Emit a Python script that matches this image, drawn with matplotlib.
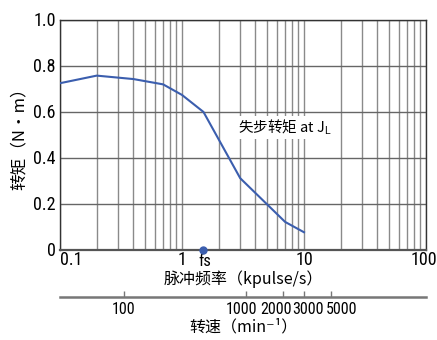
import matplotlib
matplotlib.use("Agg")
import matplotlib.pyplot as plt
from matplotlib.transforms import ScaledTranslation

# ---- data ----
freq_kpps = [0.1, 0.2, 0.4, 0.7, 1.0, 1.5, 3.0, 7.0, 10.0]
torque_nm = [0.723, 0.756, 0.741, 0.718, 0.672, 0.598, 0.31, 0.12, 0.075]
fs_freq = 1.5
y_ticks = [0, 0.2, 0.4, 0.6, 0.8, 1.0]
y_ticklabels = ["0", "0.2", "0.4", "0.6", "0.8", "1.0"]
x_ticks = [0.1, 1, 10, 100]
x_ticklabels = ["0.1", "1", "10", "100"]
rpm_ticks = [100, 1000, 2000, 3000, 5000]
rpm_ticklabels = ["100", "1000", "2000", "3000", "5000"]
rpm_per_kpps = 300.0

NUM = ["Roboto Condensed", "Liberation Sans Narrow", "Roboto", "DejaVu Sans"]
CJK = ["Noto Sans CJK SC", "DejaVu Sans"]
plt.rcParams["font.family"] = NUM
plt.rcParams["mathtext.fontset"] = "custom"
plt.rcParams["mathtext.rm"] = "Liberation Sans"

fig = plt.figure(figsize=(4.37, 3.40), dpi=100)
L, R = 60 / 437, 426 / 437
B, T = 1 - 249.5 / 340, 1 - 19.5 / 340
ax = fig.add_axes([L, B, R - L, T - B])
ax.set_xscale("log")
ax.set_xlim(0.1, 100)
ax.set_ylim(0, 1.0)

grid_c = "#8a8a8a"
ax.grid(True, which="both", axis="x", color=grid_c, lw=1.0)
ax.grid(True, which="major", axis="y", color="#666666", lw=1.0)
ax.set_axisbelow(True)
for s in ["left", "top", "right"]:
    ax.spines[s].set_color("#333333")
    ax.spines[s].set_linewidth(1.0)
ax.spines["bottom"].set_color("#555555")
ax.spines["bottom"].set_linewidth(1.6)

ax.set_yticks(y_ticks)
ax.set_yticklabels(y_ticklabels, fontsize=13)
ax.set_xticks(x_ticks)
ax.set_xticklabels(x_ticklabels, fontsize=13)
ax.xaxis.set_minor_formatter(matplotlib.ticker.NullFormatter())
ax.tick_params(axis="both", which="both", length=0)
ax.tick_params(axis="y", pad=3)
ax.tick_params(axis="x", pad=1)
ax.get_xticklabels()[0].set_ha("left")
ax.get_xticklabels()[-1].set_ha("right")
ax.get_xticklabels()[-1].set_transform(
    ax.get_xticklabels()[-1].get_transform() + ScaledTranslation(11 / 100, 0, fig.dpi_scale_trans))

ax.plot(freq_kpps, torque_nm, color="#3b5eae", lw=1.5, zorder=3)
ax.plot([fs_freq], [0], "o", color="#3b5eae", ms=5, clip_on=False, zorder=4)
ax.annotate("fs", xy=(fs_freq, 0), xytext=(1, -3), textcoords="offset points",
            ha="center", va="top", fontsize=12)

ax.text(2.9, 0.53, r"失步转矩 at J$_\mathrm{L}$", family=CJK, fontsize=10.5,
        va="center", ha="left",
        bbox=dict(facecolor="white", edgecolor="none", pad=1.0), zorder=5)

ax.set_ylabel("转矩（N・m）", family=CJK, fontsize=12, labelpad=4)
ax.set_xlabel("脉冲频率（kpulse/s）", family=CJK, fontsize=11.5, labelpad=1)

# secondary speed axis
yb = 1 - 296.7 / 340
ax2 = fig.add_axes([L, yb, R - L, 0.0001])
ax2.set_xscale("log")
ax2.set_xlim(0.1 * rpm_per_kpps, 100 * rpm_per_kpps)
ax2.set_yticks([])
for s in ["left", "right", "bottom"]:
    ax2.spines[s].set_visible(False)
ax2.spines["top"].set_color("#777777")
ax2.spines["top"].set_linewidth(1.8)
ax2.set_xticks(rpm_ticks)
ax2.set_xticklabels(rpm_ticklabels, fontsize=11.5)
ax2.xaxis.set_minor_locator(matplotlib.ticker.NullLocator())
ax2.tick_params(axis="x", direction="in", length=4, color="#777777", width=1, pad=4)
ax2.patch.set_visible(False)
# labels nudged apart as in the reference (pixels)
label_shift_px = [0, -4, -7, 4, 11]
for lab, dx in zip(ax2.get_xticklabels(), label_shift_px):
    lab.set_transform(lab.get_transform() + ScaledTranslation(dx / 100, 0, fig.dpi_scale_trans))
ax2.set_xlabel("转速（min⁻¹）", family=CJK, fontsize=11.5, labelpad=1)

fig.savefig("out.png", dpi=100)
